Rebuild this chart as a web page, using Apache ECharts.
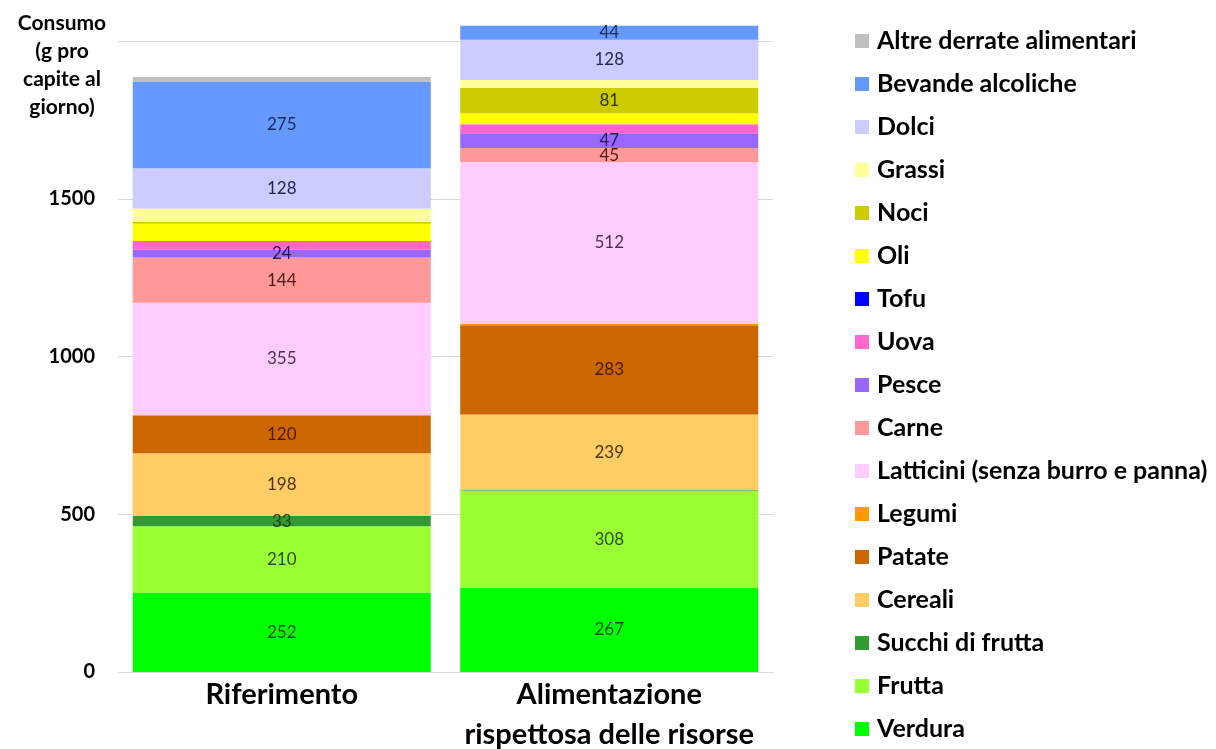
<!DOCTYPE html>
<html>
<head>
<meta charset="utf-8">
<script src="https://cdn.jsdelivr.net/npm/echarts@6/dist/echarts.min.js"></script>
<style>
  html, body { margin: 0; padding: 0; background: #fff; }
  #chart { width: 1216px; height: 749px; }
</style>
</head>
<body>
<div id="chart"></div>
<script>
'use strict';

// stacking order, bottom to top
const categories = ['Riferimento', 'Alimentazione\nrispettosa delle risorse'];
const seriesNames = [
  'Verdura', 'Frutta', 'Succhi di frutta', 'Cereali', 'Patate', 'Legumi',
  'Latticini (senza burro e panna)', 'Carne', 'Pesce', 'Uova', 'Tofu', 'Oli',
  'Noci', 'Grassi', 'Dolci', 'Bevande alcoliche', 'Altre derrate alimentari'
];
const riferimento = [252, 210, 33, 198, 120, 2, 355, 144, 24, 28, 0, 55, 6, 42, 128, 275, 14];
const rispettosa = [267, 308, 2, 239, 283, 5, 512, 45, 47, 28, 0, 35, 81, 24, 128, 44, 0];
const labelledSeries = [
  'Verdura', 'Frutta', 'Succhi di frutta', 'Cereali', 'Patate',
  'Latticini (senza burro e panna)', 'Carne', 'Pesce', 'Noci', 'Dolci', 'Bevande alcoliche'
];
const yTicks = [0, 500, 1000, 1500];

const colors = {
  'Verdura': '#00ff00',
  'Frutta': '#99ff33',
  'Succhi di frutta': '#339933',
  'Cereali': '#ffcc66',
  'Patate': '#cc6600',
  'Legumi': '#ff9900',
  'Latticini (senza burro e panna)': '#ffccff',
  'Carne': '#ff9999',
  'Pesce': '#9966ff',
  'Uova': '#ff66cc',
  'Tofu': '#0000ff',
  'Oli': '#ffff00',
  'Noci': '#cccc00',
  'Grassi': '#ffff99',
  'Dolci': '#ccccff',
  'Bevande alcoliche': '#6699ff',
  'Altre derrate alimentari': '#bfbfbf'
};
const labelColors = {
  'Verdura': '#1a4d1a',
  'Frutta': '#2d4d1a',
  'Succhi di frutta': '#1a3d1a',
  'Cereali': '#4d3300',
  'Patate': '#4d1a00',
  'Latticini (senza burro e panna)': '#4d334d',
  'Carne': '#4d1a1a',
  'Pesce': '#261a4d',
  'Noci': '#333300',
  'Dolci': '#26264d',
  'Bevande alcoliche': '#1a2a5a'
};

const FONT = 'Lato, "Open Sans", sans-serif';

const series = seriesNames.map(function (name, i) {
  const show = labelledSeries.indexOf(name) >= 0;
  return {
    name: name,
    type: 'bar',
    stack: 'total',
    clip: false,
    barCategoryGap: '9%',
    itemStyle: { color: colors[name] },
    label: {
      show: show,
      position: 'inside',
      fontFamily: FONT,
      fontSize: 17,
      color: labelColors[name] || '#333',
      formatter: function (p) { return p.value >= 10 ? String(p.value) : ''; }
    },
    emphasis: { disabled: true },
    data: [riferimento[i], rispettosa[i]]
  };
});

const chart = echarts.init(document.getElementById('chart'), null, { renderer: 'canvas' });

chart.setOption({
  animation: false,
  graphic: [{
    type: 'text',
    x: 62,
    y: 9,
    style: {
      text: 'Consumo\n(g pro\ncapite al\ngiorno)',
      fontFamily: FONT,
      fontWeight: 'bold',
      fontSize: 21,
      lineHeight: 28,
      align: 'center',
      verticalAlign: 'top',
      fill: '#000'
    }
  }],
  legend: {
    orient: 'vertical',
    left: 855,
    top: 28,
    height: 720,
    padding: 0,
    itemWidth: 14,
    itemHeight: 14,
    itemGap: 17,
    icon: 'rect',
    data: seriesNames.slice().reverse(),
    textStyle: {
      fontFamily: FONT,
      fontWeight: 'bold',
      fontSize: 25,
      lineHeight: 26,
      color: '#000',
      padding: [0, 0, 0, 3]
    },
    selectedMode: false
  },
  grid: { left: 118, right: 443, top: 41, bottom: 77, outerBoundsMode: 'none' },
  xAxis: {
    type: 'category',
    data: categories,
    axisLine: { show: true, lineStyle: { color: '#d9d9d9' } },
    axisTick: { show: false },
    axisLabel: {
      interval: 0,
      hideOverlap: false,
      fontFamily: FONT,
      fontWeight: 'bold',
      fontSize: 29,
      lineHeight: 40,
      color: '#000',
      margin: 3
    }
  },
  yAxis: {
    type: 'value',
    min: 0,
    max: 2000,
    interval: 500,
    axisLine: { show: false },
    axisTick: { show: false },
    splitLine: { lineStyle: { color: '#d9d9d9', width: 1 } },
    axisLabel: {
      fontFamily: FONT,
      fontWeight: 'bold',
      fontSize: 20,
      color: '#000',
      margin: 23,
      formatter: function (v) { return yTicks.indexOf(v) >= 0 ? String(v) : ''; }
    }
  },
  series: series
});
</script>
</body>
</html>
